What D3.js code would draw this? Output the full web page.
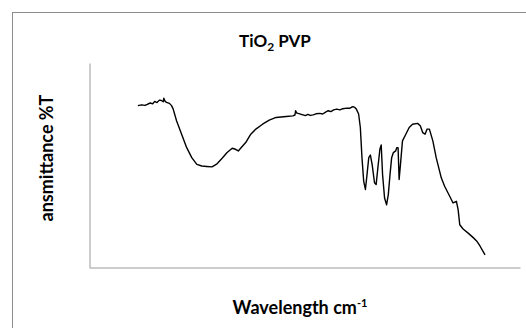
<!DOCTYPE html>
<html>
<head>
<meta charset="utf-8">
<script src="https://cdn.jsdelivr.net/npm/d3@7"></script>
<style>
    body { margin: 0; background: #fff; }
    svg { display: block; }
    text { font-family: Lato, "Open Sans", sans-serif; font-weight: bold; fill: #000; }
</style>
</head>
<body>
<div id="chart"></div>
<script>

// FTIR spectrum (wavenumber cm-1, %T)
var wavenumbers = [
    3990, 3950, 3915, 3885, 3860, 3835, 3814, 3790, 3765, 3744, 3725, 3719, 3705, 3691,
    3660, 3638, 3621, 3586, 3533, 3480, 3427, 3374, 3322, 3270, 3216, 3163, 3110, 3058,
    3005, 2970, 2941, 2917, 2864, 2811, 2758, 2688, 2618, 2547, 2442, 2371, 2350, 2343,
    2330, 2318, 2290, 2266, 2240, 2215, 2190, 2160, 2130, 2090, 2060, 2030, 2002, 1975,
    1945, 1914, 1880, 1850, 1808, 1780, 1760, 1745, 1725, 1709, 1685, 1667, 1650, 1632,
    1614, 1597, 1579, 1562, 1544, 1519, 1502, 1484, 1463, 1449, 1435, 1414, 1393, 1375,
    1357, 1340, 1322, 1298, 1287, 1273, 1262, 1245, 1227, 1192, 1157, 1122, 1069, 1041,
    1016, 991, 970, 946, 910, 875, 822, 787, 734, 699, 664, 646, 629, 594, 541, 488, 453,
    418, 365
];

var transmittance = [
    79.1, 79.5, 79.2, 79.9, 80.4, 80.0, 81.2, 80.6, 81.8, 81.6, 81.0, 82.7, 81.2, 80.7,
    80.2, 79.1, 77.4, 71.7, 65.1, 58.5, 53.6, 50.3, 49.5, 49.3, 49.1, 50.6, 53.3, 56.1,
    58.2, 57.7, 56.9, 58.2, 61.0, 65.1, 67.6, 70.0, 72.0, 73.3, 73.8, 74.1, 74.5, 76.6,
    75.4, 75.3, 74.9, 74.6, 74.2, 74.8, 74.3, 74.6, 75.1, 75.3, 75.0, 75.9, 76.6, 76.2,
    77.0, 77.4, 77.0, 77.6, 77.9, 77.8, 78.3, 78.6, 78.2, 77.4, 75.0, 68.4, 53.6, 42.1,
    38.0, 45.4, 53.6, 54.9, 50.3, 41.3, 40.4, 48.6, 57.7, 59.8, 45.4, 33.8, 30.5, 35.5,
    45.4, 53.6, 56.1, 56.9, 58.5, 58.5, 42.9, 51.9, 61.8, 65.1, 68.4, 70.0, 70.4, 69.2,
    65.9, 65.1, 67.6, 67.6, 61.8, 53.6, 43.7, 39.6, 34.7, 31.4, 32.2, 28.1, 20.7, 18.6,
    16.6, 14.4, 12.8, 10.3, 5.9
];

var title = 'TiO';
var titleSub = '2';
var titleRest = ' PVP';
var xLabel = 'Wavelength cm';
var xLabelSup = '-1';
var yLabel = 'ansmittance %T';

var width = 526,
    height = 328,
    margin = { top: 63, right: 6, bottom: 61, left: 89 };

var svg = d3.select('#chart')
    .append('svg')
    .attr('width', width)
    .attr('height', height);

// chart area border (runs off the right and bottom of the picture)
svg.append('rect')
    .attr('x', 12.5)
    .attr('y', 12.5)
    .attr('width', 600)
    .attr('height', 400)
    .attr('fill', 'none')
    .attr('stroke', '#8c8c8c')
    .attr('stroke-width', 1);

var x = d3.scaleLinear()
    .domain([4500, 0])
    .range([margin.left, width - margin.right]);

var y = d3.scaleLinear()
    .domain([0, 100])
    .range([height - margin.bottom, margin.top]);

// axes without ticks or labels
svg.append('g')
    .attr('transform', 'translate(0,' + (height - margin.bottom + 0.5) + ')')
    .call(d3.axisBottom(x).tickValues([]).tickSizeOuter(0))
    .call(function(g) { g.select('.domain').attr('stroke', '#999'); });

svg.append('g')
    .attr('transform', 'translate(' + (margin.left + 0.5) + ',0)')
    .call(d3.axisLeft(y).tickValues([]).tickSizeOuter(0))
    .call(function(g) { g.select('.domain').attr('stroke', '#999'); });

var points = wavenumbers.map(function(w, i) { return [w, transmittance[i]]; });

var line = d3.line()
    .x(function(d) { return x(d[0]); })
    .y(function(d) { return y(d[1]); });

svg.append('path')
    .datum(points)
    .attr('fill', 'none')
    .attr('stroke', '#000')
    .attr('stroke-width', 1.4)
    .attr('stroke-linejoin', 'round')
    .attr('d', line);

// title with subscript
var t = svg.append('text')
    .attr('x', 275)
    .attr('y', 47)
    .attr('text-anchor', 'middle')
    .style('font-size', '17px');
t.append('tspan').text(title);
t.append('tspan').attr('dy', 4).style('font-size', '12px').text(titleSub);
t.append('tspan').attr('dy', -4).text(titleRest);

// x axis title with superscript
var xt = svg.append('text')
    .attr('x', 300)
    .attr('y', 314)
    .attr('text-anchor', 'middle')
    .style('font-size', '18px');
xt.append('tspan').text(xLabel);
xt.append('tspan').attr('dy', -7).style('font-size', '11px').text(xLabelSup);

svg.append('text')
    .attr('transform', 'translate(53,158) rotate(-90)')
    .attr('text-anchor', 'middle')
    .style('font-size', '18px')
    .text(yLabel);

</script>
</body>
</html>
